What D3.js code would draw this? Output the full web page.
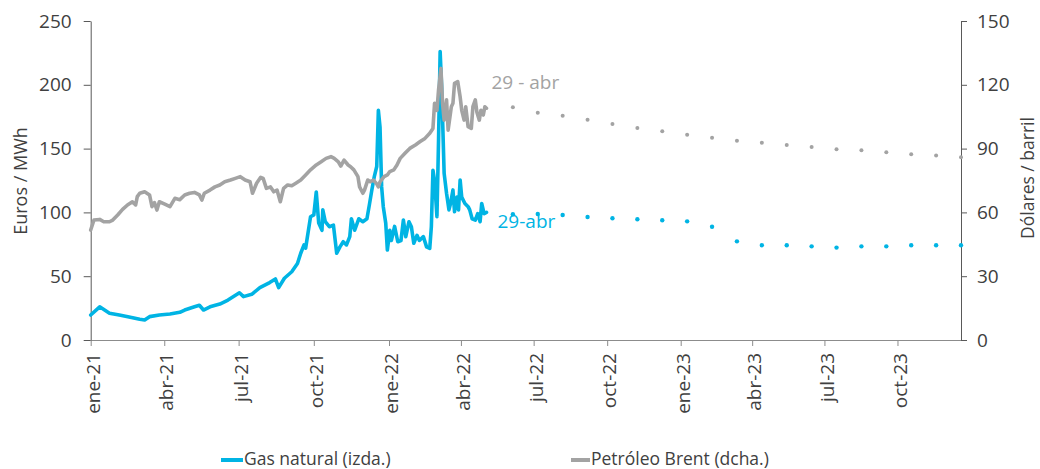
<!DOCTYPE html>
<html>
<head>
<meta charset="utf-8">
<script src="https://cdn.jsdelivr.net/npm/d3@7"></script>
<style>
  body { margin: 0; background: #fff; }
  svg { display: block; font-family: "Open Sans", "Noto Sans", sans-serif; }
</style>
</head>
<body>
<svg id="chart" width="1040" height="469"></svg>
<script>
// ---------- DATA ----------
const gasDates = ["2021-01-01","2021-01-12","2021-01-24","2021-02-05","2021-02-17","2021-03-02","2021-03-08","2021-03-14","2021-03-26","2021-04-08","2021-04-20","2021-04-26","2021-05-08","2021-05-14","2021-05-19","2021-05-27","2021-06-08","2021-06-18","2021-07-02","2021-07-07","2021-07-17","2021-07-27","2021-08-08","2021-08-15","2021-08-19","2021-08-26","2021-09-04","2021-09-11","2021-09-15","2021-09-19","2021-09-21","2021-09-27","2021-10-01","2021-10-04","2021-10-07","2021-10-11","2021-10-12","2021-10-15","2021-10-20","2021-10-25","2021-10-29","2021-11-02","2021-11-06","2021-11-10","2021-11-14","2021-11-16","2021-11-20","2021-11-25","2021-11-30","2021-12-05","2021-12-08","2021-12-11","2021-12-14","2021-12-17","2021-12-19","2021-12-21","2021-12-23","2021-12-25","2021-12-28","2021-12-30","2022-01-02","2022-01-04","2022-01-08","2022-01-12","2022-01-16","2022-01-19","2022-01-22","2022-01-26","2022-01-29","2022-02-01","2022-02-05","2022-02-08","2022-02-13","2022-02-17","2022-02-21","2022-02-23","2022-02-25","2022-02-27","2022-03-02","2022-03-04","2022-03-06","2022-03-08","2022-03-11","2022-03-14","2022-03-17","2022-03-19","2022-03-22","2022-03-24","2022-03-27","2022-03-29","2022-03-31","2022-04-02","2022-04-06","2022-04-10","2022-04-12","2022-04-15","2022-04-19","2022-04-22","2022-04-25","2022-04-27","2022-04-30","2022-05-03"];
const gasValues = [19.6,26,21,19.6,18,16.2,15.7,18.3,19.6,20.4,21.7,23.5,26,27.2,23.5,26,28.2,31.3,37,34,35.8,41,45,47.8,41,48.4,53.5,60,68,74.5,72,96.6,98,116,91.6,86,102,92.7,88.8,90,68,73,77,74.5,81,95,86,95,92.7,95,106,117.6,128,136,180,167,120,104.5,91.6,70.5,86,78,89,77,78,94,81,92.7,88.8,75.8,82,78,81,73,71.8,88.8,133,125,96.6,156.7,226,196,130.6,115,102,107,117.6,100.5,112,102,125.4,112,107,104.5,102,95,94,99,92.7,107,99,100];

const brentDates = ["2021-01-01","2021-01-05","2021-01-12","2021-01-17","2021-01-24","2021-01-28","2021-02-03","2021-02-09","2021-02-15","2021-02-21","2021-02-25","2021-02-27","2021-03-02","2021-03-08","2021-03-14","2021-03-17","2021-03-20","2021-03-23","2021-03-26","2021-04-01","2021-04-08","2021-04-14","2021-04-20","2021-04-26","2021-05-02","2021-05-08","2021-05-14","2021-05-17","2021-05-20","2021-05-27","2021-06-02","2021-06-08","2021-06-14","2021-06-21","2021-06-27","2021-07-03","2021-07-09","2021-07-15","2021-07-18","2021-07-23","2021-07-28","2021-07-31","2021-08-04","2021-08-09","2021-08-13","2021-08-17","2021-08-21","2021-08-25","2021-08-30","2021-09-04","2021-09-09","2021-09-15","2021-09-21","2021-09-27","2021-10-04","2021-10-10","2021-10-16","2021-10-22","2021-10-26","2021-10-31","2021-11-03","2021-11-07","2021-11-12","2021-11-15","2021-11-19","2021-11-24","2021-11-26","2021-11-30","2021-12-02","2021-12-06","2021-12-09","2021-12-13","2021-12-17","2021-12-19","2021-12-21","2021-12-26","2021-12-30","2022-01-02","2022-01-07","2022-01-11","2022-01-15","2022-01-21","2022-01-27","2022-02-03","2022-02-09","2022-02-15","2022-02-21","2022-02-25","2022-02-27","2022-03-02","2022-03-04","2022-03-07","2022-03-09","2022-03-11","2022-03-14","2022-03-16","2022-03-20","2022-03-22","2022-03-24","2022-03-28","2022-03-31","2022-04-02","2022-04-05","2022-04-07","2022-04-10","2022-04-14","2022-04-16","2022-04-19","2022-04-21","2022-04-24","2022-04-26","2022-04-29","2022-05-01","2022-05-03"];
const brentValues = [51.7,56.4,56.7,55.6,55.6,56.4,58.8,61.4,63.5,65,63.5,67.4,69,69.7,68.2,62.7,64.6,61.1,65,64,62.7,66.6,66,68.2,69,69.4,68.2,65.8,69,70.5,72,72.9,74.4,75.2,76,76.8,75.2,74.4,69,73.7,76.5,76,71.3,72,69.7,70.5,65,71.3,72.9,72.5,73.7,75.2,77.6,80,82.3,83.8,85.4,86.2,85.4,83.8,81.8,84.6,82.3,81.5,80,76.8,72,69,70.5,75.2,74.4,75.2,73.4,72,74.4,76.8,77.6,79.2,80,82.3,85.4,87.8,90.1,91.7,93.3,94.8,97.2,99.5,111.3,108,117.6,127.7,111.3,103.4,112.9,98.7,109.7,111.3,120.7,121.5,114.4,108,103.4,109.7,100.3,99.5,109.7,112.9,107.1,103.4,108,105.8,109.7,109];

// Futures (monthly, jun-22 .. dic-23)
const futMonths = ["2022-06","2022-07","2022-08","2022-09","2022-10","2022-11","2022-12","2023-01","2023-02","2023-03","2023-04","2023-05","2023-06","2023-07","2023-08","2023-09","2023-10","2023-11","2023-12"];
const gasFutures = [98.5,98.7,98,96.4,95.4,94.6,93.8,93,88.8,77.3,74.2,74.2,73.4,72.4,73.4,73.4,74.2,74.2,74.2];
const brentFutures = [109.4,106.9,105.5,103.6,101.6,99.7,98.1,96.5,95.1,93.7,92.8,91.7,90.7,89.7,89.2,88.3,87.3,86.8,85.9];

const xTickLabels = ["ene-21","abr-21","jul-21","oct-21","ene-22","abr-22","jul-22","oct-22","ene-23","abr-23","jul-23","oct-23"];
const leftTicks = [0,50,100,150,200,250];
const rightTicks = [0,30,60,90,120,150];
const seriesNames = ["Gas natural (izda.)","Petróleo Brent (dcha.)"];
const annotations = ["29 - abr","29-abr"];

// ---------- STYLE ----------
const GAS = "#00B4E4";
const BRENT = "#A3A3A3";
const TEXT = "#404040";

const parse = d3.timeParse("%Y-%m-%d");
const svg = d3.select("#chart");

const pLeft = 90.7, pRight = 961, pTop = 21, pBottom = 340;

const x = d3.scaleTime()
  .domain([parse("2021-01-01"), parse("2022-01-01"), parse("2023-01-01"), parse("2023-12-20")])
  .range([pLeft, 389, 680.7, pRight]);
const yL = d3.scaleLinear().domain([0, 250]).range([pBottom, pTop]);
const yR = d3.scaleLinear().domain([0, 150]).range([pBottom, pTop]);
const xF = d3.scalePoint().domain(futMonths).range([x(parse("2022-06-05")), pRight]);

// ---------- AXES ----------
const tickDates = xTickLabels.map((_, i) => d3.timeMonth.offset(parse("2021-01-01"), i * 3));

const gx = svg.append("g").attr("transform", `translate(0,${pBottom})`)
  .call(d3.axisBottom(x).tickValues(tickDates).tickFormat((d, i) => xTickLabels[i]).tickSize(6).tickSizeOuter(0));
gx.select(".domain").attr("stroke", "#8c8c8c");
gx.selectAll(".tick line").attr("stroke", "#8c8c8c");
gx.selectAll("text")
  .attr("transform", "rotate(-90)")
  .attr("x", -13).attr("y", 8.6).attr("dy", 0)
  .style("text-anchor", "end")
  .attr("fill", TEXT).style("font-size", "19px").style("font-family", "'Open Sans', sans-serif");

const gl = svg.append("g").attr("transform", `translate(${pLeft},0)`)
  .call(d3.axisLeft(yL).tickValues(leftTicks).tickSize(7).tickPadding(12).tickSizeOuter(0));
gl.select(".domain").attr("stroke", "#595959");
gl.selectAll(".tick line").attr("stroke", "#595959");
gl.selectAll("text").attr("fill", TEXT).style("font-size", "19px").style("font-family", "'Open Sans', sans-serif");

const gr = svg.append("g").attr("transform", `translate(${pRight},0)`)
  .call(d3.axisRight(yR).tickValues(rightTicks).tickSize(6).tickPadding(10).tickSizeOuter(0));
gr.select(".domain").attr("stroke", "#595959");
gr.selectAll(".tick line").attr("stroke", "#595959");
gr.selectAll("text").attr("fill", TEXT).style("font-size", "19px").style("font-family", "'Open Sans', sans-serif");

svg.append("text").attr("transform", "translate(27,181) rotate(-90)")
  .attr("text-anchor", "middle").attr("fill", TEXT).style("font-size", "18px").text("Euros / MWh");
svg.append("text").attr("transform", "translate(1034,178) rotate(-90)")
  .attr("text-anchor", "middle").attr("fill", TEXT).style("font-size", "17.5px").text("Dólares / barril");

// ---------- LINES ----------
const gasData = gasDates.map((d, i) => ({ date: parse(d), v: gasValues[i] }));
const brentData = brentDates.map((d, i) => ({ date: parse(d), v: brentValues[i] }));

svg.append("path").datum(gasData)
  .attr("fill", "none").attr("stroke", GAS).attr("stroke-width", 3.6)
  .attr("stroke-linejoin", "round").attr("stroke-linecap", "round")
  .attr("d", d3.line().x(d => x(d.date)).y(d => yL(d.v)));

svg.append("path").datum(brentData)
  .attr("fill", "none").attr("stroke", BRENT).attr("stroke-width", 3.6)
  .attr("stroke-linejoin", "round").attr("stroke-linecap", "round")
  .attr("d", d3.line().x(d => x(d.date)).y(d => yR(d.v)));

// ---------- FUTURES (dotted) ----------
svg.append("g").selectAll("circle").data(futMonths).join("circle")
  .attr("cx", d => xF(d)).attr("cy", (d, i) => yL(gasFutures[i])).attr("r", 2.2).attr("fill", GAS);
svg.append("g").selectAll("circle").data(futMonths).join("circle")
  .attr("cx", d => xF(d)).attr("cy", (d, i) => yR(brentFutures[i])).attr("r", 2).attr("fill", BRENT);

// ---------- ANNOTATIONS ----------
const lastB = brentData[brentData.length - 1];
const lastG = gasData[gasData.length - 1];
svg.append("text").attr("x", x(lastB.date) + 5).attr("y", yR(lastB.v) - 19)
  .attr("fill", BRENT).style("font-size", "19px").text(annotations[0]);
svg.append("text").attr("x", x(lastG.date) + 11).attr("y", yL(lastG.v) + 16)
  .attr("fill", GAS).style("font-size", "19px").text(annotations[1]);

// ---------- LEGEND ----------
const legend = [{ name: seriesNames[0], color: GAS, x0: 221, x1: 243 }, { name: seriesNames[1], color: BRENT, x0: 571, x1: 590 }];
const lg = svg.append("g");
legend.forEach(l => {
  lg.append("line").attr("x1", l.x0).attr("x2", l.x1).attr("y1", 460).attr("y2", 460)
    .attr("stroke", l.color).attr("stroke-width", 4);
  lg.append("text").attr("x", l.x1 + 1).attr("y", 465).attr("fill", TEXT)
    .style("font-size", "17.5px").text(l.name);
});
</script>
</body>
</html>
